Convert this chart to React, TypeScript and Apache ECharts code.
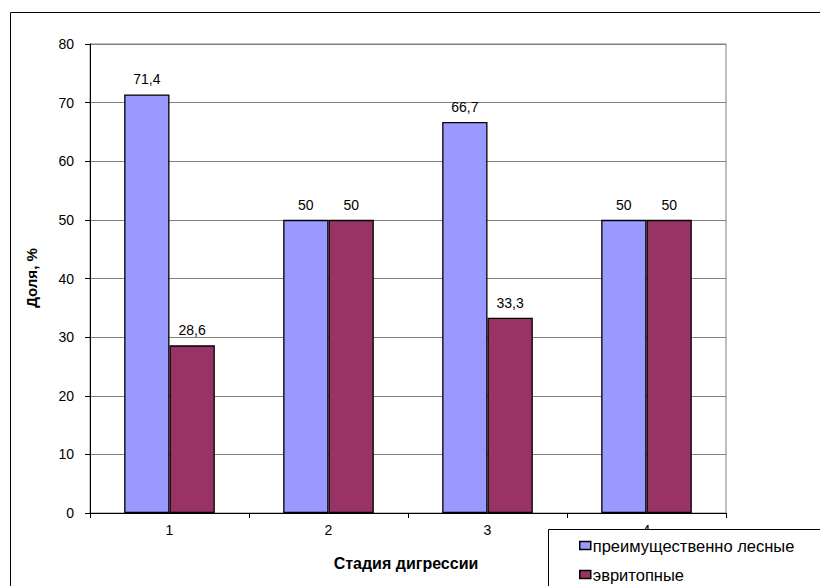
import React, { useEffect, useRef } from "react";
import * as echarts from "echarts";

const categories = ["1", "2", "3", "4"];
const seriesNames = ["преимущественно лесные", "эвритопные"];
const forestValues = [71.4, 50, 66.7, 50];
const eurytopicValues = [28.6, 50, 33.3, 50];
const yAxisTitle = "Доля, %";
const xAxisTitle = "Стадия дигрессии";

const FONT = "'Liberation Sans', Arial, sans-serif";

export default function App() {
  const ref = useRef<HTMLDivElement>(null);
  useEffect(() => {
    if (!ref.current) return;
    const chart = echarts.init(ref.current, null, { renderer: "svg" });
    const labelCfg = {
      show: true,
      position: "top",
      distance: 8,
      color: "#000",
      fontFamily: FONT,
      fontSize: 14,
      formatter: (p: any) => String(p.value).replace(".", ","),
    };
    chart.setOption({
      animation: false,
      backgroundColor: "#fff",
      textStyle: { fontFamily: FONT },
      grid: {
        left: 90,
        top: 44,
        right: 94,
        bottom: 73,
        show: true,
        borderColor: "#808080",
        borderWidth: 1,
        backgroundColor: "transparent",
      },
      xAxis: {
        type: "category",
        data: categories,
        axisLine: { lineStyle: { color: "#000", width: 1 } },
        axisTick: { show: true, alignWithLabel: false, length: 5, lineStyle: { color: "#000" } },
        axisLabel: { color: "#000", fontSize: 14, fontFamily: FONT, margin: 10 },
        splitLine: { show: false },
      },
      yAxis: {
        type: "value",
        min: 0,
        max: 80,
        interval: 10,
        axisLine: { show: true, lineStyle: { color: "#000", width: 1 } },
        axisTick: { show: true, length: 5, lineStyle: { color: "#000" } },
        axisLabel: { color: "#000", fontSize: 14, fontFamily: FONT, margin: 16 },
        splitLine: { show: true, lineStyle: { color: "#808080", width: 1 } },
      },
      legend: {
        orient: "vertical",
        left: 579,
        top: 537,
        padding: 0,
        itemWidth: 11,
        itemHeight: 8,
        itemGap: 12,
        icon: "rect",
        z: 10,
        itemStyle: { borderColor: "#000", borderWidth: 1.5 },
        textStyle: { color: "#000", fontSize: 16.5, fontFamily: FONT, padding: [0, 0, 0, -3] },
        data: seriesNames,
      },
      graphic: [
        {
          type: "rect",
          z: 9,
          shape: { x: 10.5, y: 12.5, width: 830, height: 600 },
          style: { fill: "none", stroke: "#000", lineWidth: 1 },
          silent: true,
        },
        {
          type: "rect",
          z: 9,
          shape: { x: 548.5, y: 529.5, width: 300, height: 100 },
          style: { fill: "#fff", stroke: "#000", lineWidth: 1 },
          silent: true,
        },
        {
          type: "text",
          z: 9,
          x: 31,
          y: 278,
          rotation: Math.PI / 2,
          style: {
            text: yAxisTitle,
            fontFamily: FONT,
            fontSize: 15,
            fontWeight: "bold",
            fill: "#000",
            align: "center",
            verticalAlign: "middle",
          },
        },
        {
          type: "text",
          z: 9,
          x: 406,
          y: 563,
          style: {
            text: xAxisTitle,
            fontFamily: FONT,
            fontSize: 16,
            fontWeight: "bold",
            fill: "#000",
            align: "center",
            verticalAlign: "middle",
          },
        },
      ],
      series: [
        {
          name: seriesNames[0],
          type: "bar",
          data: forestValues,
          barGap: "0%",
          barCategoryGap: "43%",
          itemStyle: { color: "#9999FF", borderColor: "#000", borderWidth: 1.3 },
          label: labelCfg,
        },
        {
          name: seriesNames[1],
          type: "bar",
          data: eurytopicValues,
          barGap: "0%",
          barCategoryGap: "43%",
          itemStyle: { color: "#993366", borderColor: "#000", borderWidth: 1.3 },
          label: labelCfg,
        },
      ],
    });
    return () => chart.dispose();
  }, []);
  return (
    <div
      ref={ref}
      style={{ position: "fixed", left: 0, top: 0, width: 820, height: 586 }}
    />
  );
}
